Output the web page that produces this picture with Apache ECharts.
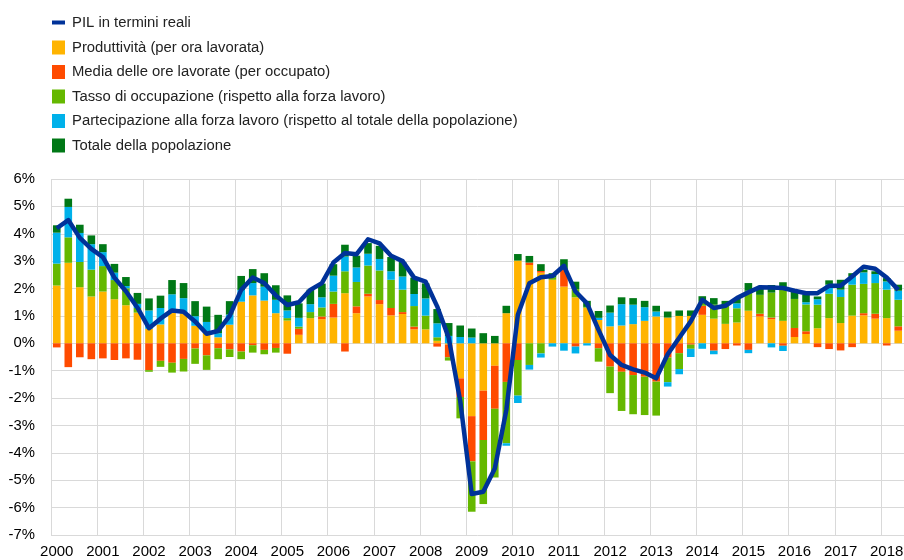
<!DOCTYPE html>
<html>
<head>
<meta charset="utf-8">
<script src="https://cdn.jsdelivr.net/npm/echarts@6/dist/echarts.min.js"></script>
<style>
  html, body { margin: 0; padding: 0; background: #fff; overflow: hidden; }
  /* il contenitore sborda di qualche px: l'ultima linea verticale resta fuori vista */
  #main { width: 912px; height: 560px; }
</style>
</head>
<body>
<div id="main"></div>
<script>
// anni e trimestri
const years = [2000, 2001, 2002, 2003, 2004, 2005, 2006, 2007, 2008, 2009,
  2010, 2011, 2012, 2013, 2014, 2015, 2016, 2017, 2018];
const quarters = ['T1', 'T2', 'T3', 'T4'];

// PIL in termini reali (linea)
const pil = [4.2, 4.5, 3.85, 3.45, 3.15, 2.4, 1.9, 1.3, 0.55, 0.9, 1.2, 1.15,
  0.8, 0.35, 0.45, 1.0, 1.95, 2.4, 2.2, 1.75, 1.4, 1.5, 1.95, 2.2,
  2.95, 3.3, 3.25, 3.8, 3.65, 3.2, 3.0, 2.4, 2.25, 1.35, 0.2, -2.1,
  -5.5, -5.42, -4.57, -2.44, 1.04, 2.19, 2.41, 2.46, 2.83, 1.89, 1.46, 0.49,
  -0.43, -0.79, -0.95, -1.07, -1.28, -0.4, 0.2, 0.8, 1.59, 1.29, 1.37, 1.65,
  1.86, 2.05, 2.04, 2.02, 1.92, 1.83, 1.83, 2.1, 2.1, 2.44, 2.8, 2.72, 2.4, 1.95];

// Produttività (per ora lavorata)
const produttivita = [2.11, 2.94, 2.05, 1.71, 1.89, 1.61, 1.39, 1.12, 0.53, 0.69, 1.12, 1.10,
  0.64, 0.38, 0.22, 0.68, 1.52, 1.75, 1.56, 1.10, 0.83, 0.31, 0.92, 0.88,
  0.94, 1.83, 1.10, 1.71, 1.43, 1.02, 1.07, 0.51, 0.51, 0.09, -0.05, -1.28,
  -2.66, -1.73, -0.82, 1.10, 3.02, 2.86, 2.58, 2.32, 2.07, 1.68, 1.30, 0.85,
  0.62, 0.65, 0.70, 0.82, 0.98, 0.94, 1.00, 1.00, 1.04, 0.90, 0.71, 0.76,
  1.19, 0.98, 0.88, 0.82, 0.23, 0.34, 0.55, 0.92, 0.74, 1.01, 1.02, 0.90, 0.92, 0.46];

// Media delle ore lavorate (per occupato)
const oreLavorate = [-0.15, -0.87, -0.51, -0.58, -0.55, -0.61, -0.55, -0.60, -0.98, -0.64, -0.71, -0.57,
  -0.19, -0.44, -0.18, -0.22, -0.30, -0.07, -0.24, -0.17, -0.38, 0.22, 0.00, 0.10,
  0.50, -0.30, 0.25, 0.10, 0.15, 0.27, 0.07, 0.10, 0.00, -0.12, -0.46, -0.68,
  -1.65, -1.80, -1.57, -1.41, -0.61, 0.09, 0.06, 0.00, 0.63, -0.12, 0.00, -0.18,
  -0.85, -1.04, -1.16, -1.22, -1.40, -0.52, -0.36, -0.05, 0.33, -0.27, -0.21, -0.08,
  -0.24, 0.10, 0.06, -0.09, 0.33, 0.10, -0.14, -0.21, -0.26, -0.14, 0.08, 0.18, -0.08, 0.16];

// Tasso di occupazione (rispetto alla forza lavoro)
const occupazione = [0.80, 0.93, 0.92, 0.98, 0.93, 0.70, 0.62, 0.17, -0.06, -0.22, -0.36, -0.46,
  -0.56, -0.53, -0.40, -0.28, -0.28, -0.27, -0.16, -0.17, 0.09, 0.08, 0.22, 0.33,
  0.45, 0.80, 0.89, 1.03, 1.08, 1.03, 0.82, 0.75, 0.50, 0.13, -0.12, -0.78,
  -1.84, -2.34, -2.51, -2.24, -1.30, -0.79, -0.37, 0.08, 0.00, 0.30, 0.03, -0.49,
  -0.97, -1.43, -1.43, -1.40, -1.24, -0.90, -0.58, -0.15, 0.15, 0.51, 0.66, 0.52,
  0.73, 0.69, 0.91, 1.23, 1.06, 0.98, 0.86, 0.89, 0.95, 1.13, 1.07, 1.12, 1.04, 0.97];

// Partecipazione alla forza lavoro (rispetto al totale della popolazione)
const partecipazione = [1.13, 1.11, 1.06, 0.93, 0.51, 0.27, 0.08, 0.15, 0.67, 0.60, 0.67, 0.55,
  0.35, 0.40, 0.15, 0.37, 0.43, 0.45, 0.51, 0.49, 0.28, 0.32, 0.29, 0.37,
  0.58, 0.54, 0.53, 0.43, 0.42, 0.31, 0.48, 0.44, 0.63, 0.51, 0.27, 0.23,
  0.21, 0.00, 0.00, -0.09, -0.27, -0.17, -0.15, -0.12, -0.27, -0.25, -0.08, 0.08,
  0.50, 0.78, 0.71, 0.50, 0.18, -0.16, -0.19, -0.30, -0.20, -0.13, 0.00, 0.18,
  -0.12, 0.00, -0.15, -0.19, 0.00, 0.08, 0.20, 0.33, 0.27, 0.30, 0.42, 0.33, 0.30, 0.33];

// Totale della popolazione
const popolazione = [0.27, 0.30, 0.30, 0.32, 0.29, 0.32, 0.33, 0.40, 0.44, 0.45, 0.52, 0.55,
  0.55, 0.56, 0.67, 0.49, 0.51, 0.51, 0.49, 0.53, 0.55, 0.53, 0.53, 0.50,
  0.42, 0.43, 0.43, 0.39, 0.48, 0.52, 0.53, 0.60, 0.55, 0.52, 0.47, 0.42,
  0.33, 0.37, 0.27, 0.27, 0.24, 0.24, 0.25, 0.16, 0.37, 0.27, 0.22, 0.25,
  0.26, 0.25, 0.24, 0.23, 0.21, 0.22, 0.20, 0.20, 0.20, 0.24, 0.18, 0.18,
  0.28, 0.24, 0.28, 0.18, 0.27, 0.28, 0.10, 0.16, 0.36, 0.12, 0.10, 0.10, 0.12, 0.22];

// categorie trimestrali (2000 T1 - 2018 T2)
const categorie = [];
years.forEach(function (y) {
  quarters.forEach(function (q) { categorie.push(y + ' ' + q); });
});
categorie.length = pil.length;

const FONT = 'Liberation Sans, Arial, sans-serif';
const FS = 14.85;

const chart = echarts.init(document.getElementById('main'), null, { renderer: 'canvas' });

function barra(nome, dati, colore) {
  return {
    name: nome,
    type: 'bar',
    stack: 'tot',
    data: dati,
    barWidth: '66%',
    itemStyle: { color: colore },
    emphasis: { disabled: true }
  };
}

// solo il primo trimestre di ogni anno
function primoTrimestre(index) {
  return index % 4 === 0;
}

const legendText = { fontFamily: FONT, fontSize: FS, color: '#222', padding: [0, 0, 0, 2] };

const option = {
  animation: false,
  backgroundColor: '#ffffff',
  textStyle: { fontFamily: FONT },
  legend: [
    {
      data: ['PIL in termini reali'],
      orient: 'vertical',
      left: 47,
      top: 10,
      icon: 'rect',
      itemWidth: 13,
      itemHeight: 4,
      selectedMode: false,
      textStyle: legendText
    },
    {
      data: ['Produttività (per ora lavorata)', 'Media delle ore lavorate (per occupato)',
        'Tasso di occupazione (rispetto alla forza lavoro)',
        'Partecipazione alla forza lavoro (rispetto al totale della popolazione)',
        'Totale della popolazione'],
      orient: 'vertical',
      left: 47,
      top: 35,
      icon: 'rect',
      itemWidth: 13,
      itemHeight: 14,
      itemGap: 9.5,
      selectedMode: false,
      textStyle: legendText
    }
  ],
  grid: { left: 51, right: 8, top: 179, bottom: 25, containLabel: false },
  xAxis: {
    type: 'category',
    data: categorie,
    boundaryGap: true,
    axisLine: { show: false },
    axisTick: { show: false },
    axisLabel: {
      interval: primoTrimestre,
      margin: 9,
      fontSize: 15,
      color: '#000',
      fontFamily: FONT,
      formatter: function (v) { return v.split(' ')[0]; }
    },
    splitLine: { show: true, interval: primoTrimestre, lineStyle: { color: '#d9d9d9', width: 1 } }
  },
  yAxis: {
    type: 'value',
    min: -7,
    max: 6,
    interval: 1,
    axisLine: { show: false },
    axisTick: { show: false },
    axisLabel: {
      margin: 16,
      fontSize: FS,
      color: '#000',
      fontFamily: FONT,
      formatter: '{value}%'
    },
    splitLine: { lineStyle: { color: '#d9d9d9', width: 1 } }
  },
  series: [
    barra('Produttività (per ora lavorata)', produttivita, '#FFB400'),
    barra('Media delle ore lavorate (per occupato)', oreLavorate, '#FF4B00'),
    barra('Tasso di occupazione (rispetto alla forza lavoro)', occupazione, '#65B800'),
    barra('Partecipazione alla forza lavoro (rispetto al totale della popolazione)', partecipazione, '#00B1EA'),
    barra('Totale della popolazione', popolazione, '#007816'),
    {
      name: 'PIL in termini reali',
      type: 'line',
      data: pil,
      z: 10,
      symbol: 'none',
      lineStyle: { color: '#003299', width: 4.5, join: 'round' },
      itemStyle: { color: '#003299' },
      emphasis: { disabled: true }
    }
  ]
};

chart.setOption(option);
</script>
</body>
</html>
